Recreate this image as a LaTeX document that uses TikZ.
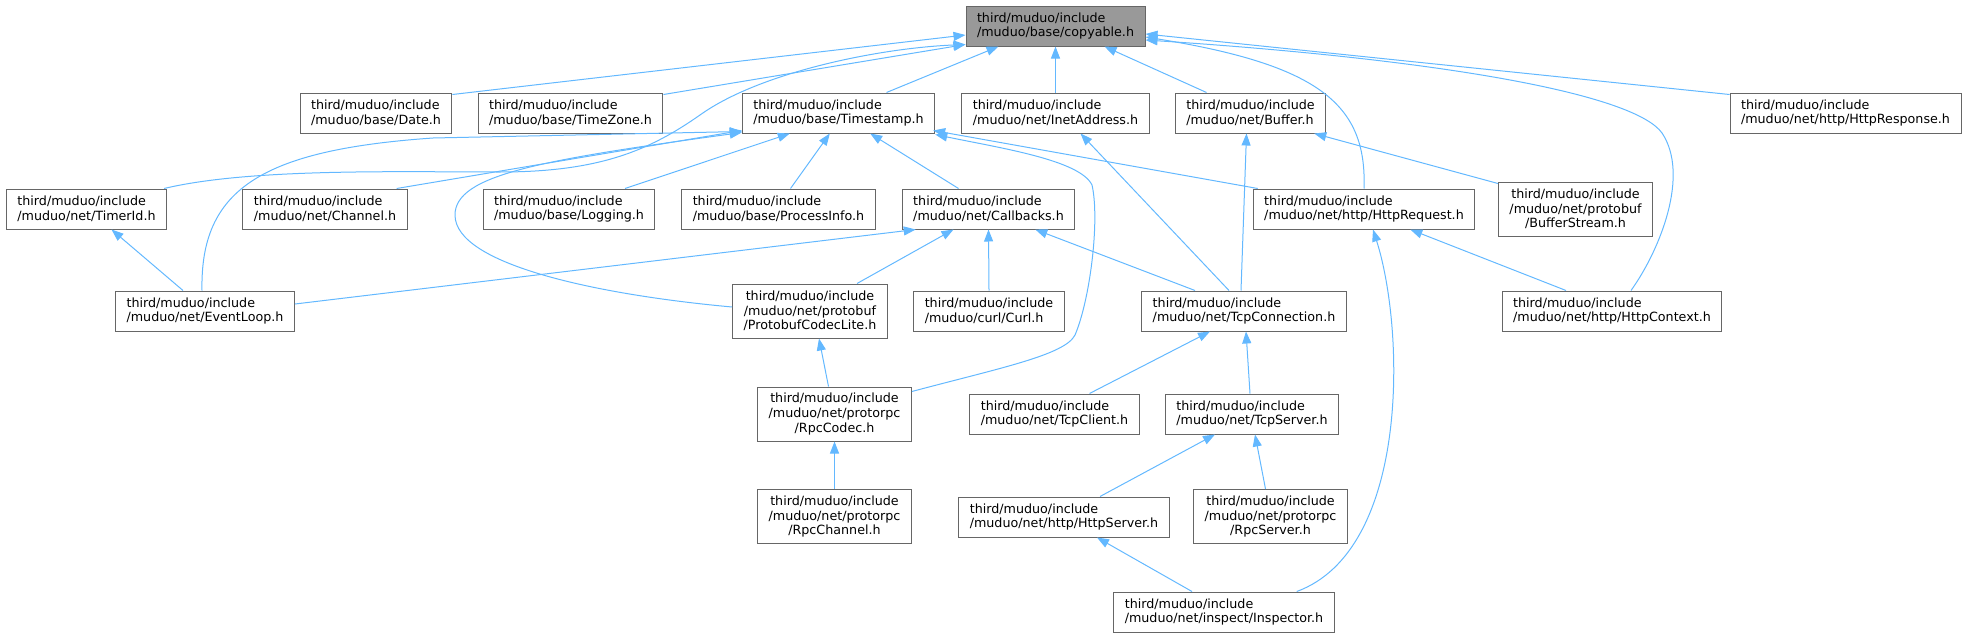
\documentclass[tikz,border=0pt]{standalone}
\usepackage{fontspec}
\setmainfont{DejaVu Sans}
\usepackage{xcolor}
\usetikzlibrary{arrows.meta,positioning,calc}
\definecolor{ink}{HTML}{000000}
\definecolor{boxline}{HTML}{666666}
\definecolor{rootfill}{HTML}{999999}
\definecolor{edgeblue}{HTML}{63B8FF}
\tikzset{
  filebox/.style={draw=boxline, line width=1pt, fill=white, align=left, inner xsep=11pt, inner ysep=0pt, minimum height=40pt, text=ink, font=\fontsize{12.7}{14.7}\selectfont},
  filebox3/.style={filebox, align=center, minimum height=54pt},
  rootbox/.style={filebox, fill=rootfill},
  dep/.style={-{Triangle[length=12pt,width=9pt]}, line width=1pt, draw=edgeblue}
}

\begin{document}
\begin{tikzpicture}[x=1pt, y=-1pt]
\useasboundingbox (0,0) rectangle (1967,637);
\node[rootbox] (copyable) at (1055.5,26) {third/muduo/include\\/muduo/base/copyable.h};
\node[filebox] (date) at (376,113) {third/muduo/include\\/muduo/base/Date.h};
\node[filebox] (timezone) at (570.5,113) {third/muduo/include\\/muduo/base/TimeZone.h};
\node[filebox] (timestamp) at (838.5,113) {third/muduo/include\\/muduo/base/Timestamp.h};
\node[filebox] (inetaddress) at (1055.5,113) {third/muduo/include\\/muduo/net/InetAddress.h};
\node[filebox] (buffer) at (1250.5,113) {third/muduo/include\\/muduo/net/Buffer.h};
\node[filebox] (httpresponse) at (1845.5,113) {third/muduo/include\\/muduo/net/http/HttpResponse.h};
\node[filebox] (timerid) at (86.5,209) {third/muduo/include\\/muduo/net/TimerId.h};
\node[filebox] (channel) at (325,209) {third/muduo/include\\/muduo/net/Channel.h};
\node[filebox] (logging) at (569,209) {third/muduo/include\\/muduo/base/Logging.h};
\node[filebox] (processinfo) at (778.5,209) {third/muduo/include\\/muduo/base/ProcessInfo.h};
\node[filebox] (callbacks) at (988.5,209) {third/muduo/include\\/muduo/net/Callbacks.h};
\node[filebox] (httprequest) at (1364,209) {third/muduo/include\\/muduo/net/http/HttpRequest.h};
\node[filebox3] (bufferstream) at (1575.5,209) {third/muduo/include\\/muduo/net/protobuf\\/BufferStream.h};
\node[filebox] (eventloop) at (205,311) {third/muduo/include\\/muduo/net/EventLoop.h};
\node[filebox3] (protobuf) at (810,311) {third/muduo/include\\/muduo/net/protobuf\\/ProtobufCodecLite.h};
\node[filebox] (curl) at (989,311) {third/muduo/include\\/muduo/curl/Curl.h};
\node[filebox] (tcpconnection) at (1244,311) {third/muduo/include\\/muduo/net/TcpConnection.h};
\node[filebox] (httpcontext) at (1612,311) {third/muduo/include\\/muduo/net/http/HttpContext.h};
\node[filebox3] (rpccodec) at (834.5,414) {third/muduo/include\\/muduo/net/protorpc\\/RpcCodec.h};
\node[filebox] (tcpclient) at (1054.5,414) {third/muduo/include\\/muduo/net/TcpClient.h};
\node[filebox] (tcpserver) at (1252,414) {third/muduo/include\\/muduo/net/TcpServer.h};
\node[filebox3] (rpcchannel) at (834.5,516.5) {third/muduo/include\\/muduo/net/protorpc\\/RpcChannel.h};
\node[filebox] (httpserver) at (1064,517) {third/muduo/include\\/muduo/net/http/HttpServer.h};
\node[filebox3] (rpcserver) at (1270.5,516.5) {third/muduo/include\\/muduo/net/protorpc\\/RpcServer.h};
\node[filebox] (inspector) at (1224,612) {third/muduo/include\\/muduo/net/inspect/Inspector.h};

\draw[dep] ([yshift=-2pt]date.north east) -- ([yshift=-9pt]copyable.west);
\draw[dep] ([yshift=-2pt]timezone.north east) -- ([yshift=2pt]copyable.south west);
\draw[dep] ([xshift=-3pt]timerid.north east) .. controls (250,168) and (400,172) .. (500,172) .. controls (600,172) and (650,150) .. (700,115) .. controls (760,72) and (880,48) .. ([yshift=2pt]copyable.south west);
\draw[dep] ([xshift=48pt]timestamp.north) -- ([xshift=33pt]copyable.south west);
\draw[dep] (inetaddress.north) -- (copyable.south);
\draw[dep] ([xshift=-44pt]buffer.north) -- ([xshift=-41pt]copyable.south east);
\draw[dep] ([yshift=-2pt]httpresponse.north west) -- ([yshift=-8pt]copyable.east);
\draw[dep] (httprequest.north) .. controls (1367,105) and (1320,65) .. ([yshift=-11pt]copyable.east);
\draw[dep] ([xshift=19pt]httpcontext.north) .. controls (1660,250) and (1690,175) .. (1662,133) .. controls (1635,95) and (1450,60) .. ([yshift=-14pt]copyable.east);

\draw[dep] ([xshift=-11pt]channel.north east) -- ([yshift=3pt]timestamp.south west);
\draw[dep] ([xshift=-3pt]eventloop.north) .. controls (200,190) and (260,150) .. (433,138) -- ([yshift=2pt]timestamp.south west);
\draw[dep] ([yshift=4pt]protobuf.west) .. controls (600,295) and (455,265) .. (455,215) .. controls (455,175) and (540,160) .. ([yshift=1pt]timestamp.south west);
\draw[dep] ([xshift=56pt]logging.north) -- ([xshift=48pt]timestamp.south west);
\draw[dep] ([xshift=12pt]processinfo.north) -- ([xshift=88pt]timestamp.south west);
\draw[dep] ([xshift=-30pt]callbacks.north) -- ([xshift=-65pt]timestamp.south east);
\draw[dep] ([xshift=5pt]httprequest.north west) -- ([xshift=-2pt,yshift=3pt]timestamp.south east);
\draw[dep] ([yshift=-5pt]rpccodec.north east) .. controls (1000,368) and (1065,355) .. (1075,335) .. controls (1090,300) and (1100,220) .. (1092,185) .. controls (1080,160) and (1000,148) .. ([yshift=-1pt]timestamp.south east);

\draw[dep] ([xshift=-22pt]eventloop.north) -- ([xshift=25pt]timerid.south);
\draw[dep] ([yshift=7pt]eventloop.east) -- ([xshift=14pt]callbacks.south west);
\draw[dep] ([xshift=47pt]protobuf.north) -- ([xshift=-35pt]callbacks.south);
\draw[dep] (curl.north) -- (callbacks.south);
\draw[dep] ([xshift=-49pt]tcpconnection.north) -- ([xshift=-40pt]callbacks.south east);
\draw[dep] ([xshift=-15pt]tcpconnection.north) -- ([xshift=25pt]inetaddress.south);
\draw[dep] ([xshift=-3pt]tcpconnection.north) -- ([xshift=-4pt]buffer.south);
\draw[dep] ([yshift=-2pt]bufferstream.north west) -- ([xshift=-12pt]buffer.south east);
\draw[dep] ([xshift=-46pt]httpcontext.north) -- ([xshift=-65pt]httprequest.south east);
\draw[dep] ([xshift=-38pt]inspector.north east) .. controls (1410,550) and (1405,330) .. ([xshift=9pt]httprequest.south);
\draw[dep] ([xshift=-6pt]rpccodec.north) -- ([xshift=9pt]protobuf.south);
\draw[dep] (rpcchannel.north) -- (rpccodec.south);
\draw[dep] ([xshift=35pt]tcpclient.north) -- ([xshift=-34pt]tcpconnection.south);
\draw[dep] ([xshift=-2pt]tcpserver.north) -- ([xshift=2pt]tcpconnection.south);
\draw[dep] ([xshift=36pt]httpserver.north) -- ([xshift=-37pt]tcpserver.south);
\draw[dep] ([xshift=-5pt]rpcserver.north) -- ([xshift=3pt]tcpserver.south);
\draw[dep] ([xshift=-32pt]inspector.north) -- ([xshift=33pt]httpserver.south);
\end{tikzpicture}
\end{document}
